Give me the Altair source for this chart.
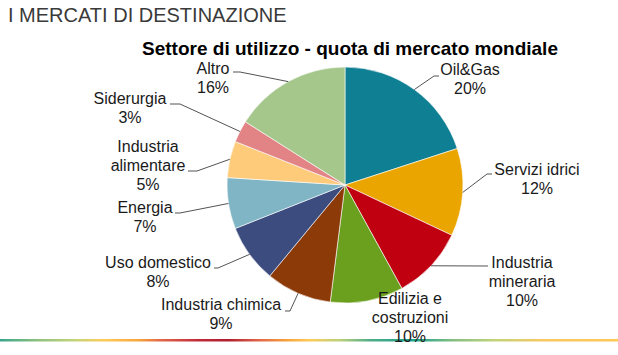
import numpy as np
import pandas as pd
import altair as alt

# ---------------- data ----------------
sectors = ["Oil&Gas", "Servizi idrici", "Industria mineraria", "Edilizia e costruzioni",
           "Industria chimica", "Uso domestico", "Energia", "Industria alimentare",
           "Siderurgia", "Altro"]
shares = [20, 12, 10, 10, 9, 8, 7, 5, 3, 16]
label_lines = [["Oil&Gas"], ["Servizi idrici"], ["Industria", "mineraria"],
               ["Edilizia e", "costruzioni"], ["Industria chimica"], ["Uso domestico"],
               ["Energia"], ["Industria", "alimentare"], ["Siderurgia"], ["Altro"]]
header = "I MERCATI DI DESTINAZIONE"
chart_title = "Settore di utilizzo - quota di mercato mondiale"

# ---------------- style / layout ----------------
colors = ["#0F7F93", "#EBA500", "#C00010", "#6B9F1E", "#8C3A08",
          "#3C4C7F", "#80B5C5", "#FECB7A", "#E28486", "#A5C78B"]
FONT = "Liberation Sans"
W, H = 618, 355
CX, CY, R = 345, 185, 118
LH = 19  # label line height
label_x = [470, 537, 522, 410, 221, 158, 145, 148, 130, 213]
label_y = [70, 170, 263, 299, 305, 263, 208, 147, 99, 69]
# leader lines: elbow and end points (None = no leader)
elbow = [(434, 76), (487, 174), (488, 266), None, (290, 311), (218, 268),
         (180, 213), (197, 171), (180, 104), (240, 72)]
lend = [(439, 76), (492, 174), (488, 266), None, (285, 311), (214, 268),
        (175, 213), (188, 171), (170, 104), (233, 72)]

# ---------------- tables ----------------
df = pd.DataFrame({"sector": sectors, "share": shares, "idx": range(len(sectors))})

total = sum(shares)
cum = np.cumsum(shares)
mid = (cum - np.array(shares) / 2) / total * 2 * np.pi

txt_rows = []
for i, lines in enumerate(label_lines):
    all_lines = lines + [f"{shares[i]}%"]
    for j, t in enumerate(all_lines):
        txt_rows.append({"t": t, "x": label_x[i], "y": label_y[i] + j * LH})
df_txt = pd.DataFrame(txt_rows)

line_rows = []
for i in range(len(sectors)):
    if elbow[i] is None:
        continue
    sx = CX + R * np.sin(mid[i])
    sy = CY - R * np.cos(mid[i])
    pts = [(sx, sy), elbow[i], lend[i]]
    for k, (px, py) in enumerate(pts):
        line_rows.append({"s": sectors[i], "k": k, "x": px, "y": py})
df_lines = pd.DataFrame(line_rows)

# ---------------- marks ----------------
stripe = alt.Chart(pd.DataFrame({"k": [0]})).mark_rect(
    color=alt.Gradient(
        gradient="linear", x1=0, x2=1, y1=0, y2=0,
        stops=[
            alt.GradientStop(offset=0.0, color="#38A58B"),
            alt.GradientStop(offset=0.06, color="#8DC07E"),
            alt.GradientStop(offset=0.12, color="#C3D47B"),
            alt.GradientStop(offset=0.17, color="#FFCB57"),
            alt.GradientStop(offset=0.225, color="#F6A43B"),
            alt.GradientStop(offset=0.26, color="#E2674A"),
            alt.GradientStop(offset=0.32, color="#C12A38"),
            alt.GradientStop(offset=0.37, color="#B01E2E"),
            alt.GradientStop(offset=0.42, color="#E2674A"),
            alt.GradientStop(offset=0.465, color="#F6A43B"),
            alt.GradientStop(offset=0.5, color="#FFCB57"),
            alt.GradientStop(offset=0.55, color="#BCD07B"),
            alt.GradientStop(offset=0.6, color="#4DAC88"),
            alt.GradientStop(offset=0.67, color="#1AA48C"),
            alt.GradientStop(offset=0.73, color="#80BD82"),
            alt.GradientStop(offset=0.8, color="#C2D37B"),
            alt.GradientStop(offset=0.88, color="#F8C860"),
            alt.GradientStop(offset=1.0, color="#FFC857"),
        ],
    )
).encode(x=alt.value(0), x2=alt.value(W), y=alt.value(339), y2=alt.value(341.5))

pie = alt.Chart(df).mark_arc(outerRadius=R, stroke="white", strokeWidth=0.6).encode(
    theta=alt.Theta("share:Q", stack=True),
    color=alt.Color("sector:N", scale=alt.Scale(domain=sectors, range=colors), legend=None),
    order=alt.Order("idx:Q"),
    x=alt.value(CX),
    y=alt.value(CY),
)

leaders = alt.Chart(df_lines).mark_line(color="#404040", strokeWidth=0.9).encode(
    x=alt.X("x:Q", scale=None),
    y=alt.Y("y:Q", scale=None),
    detail="s:N",
    order="k:Q",
)

labels = alt.Chart(df_txt).mark_text(
    font=FONT, fontSize=16, color="#1A1A1A", align="center", baseline="middle"
).encode(x=alt.X("x:Q", scale=None), y=alt.Y("y:Q", scale=None), text="t:N")

head = alt.Chart(pd.DataFrame({"t": [header]})).mark_text(
    font=FONT, fontSize=20, color="#3A3A3A", align="left", baseline="alphabetic"
).encode(x=alt.value(8), y=alt.value(22), text="t:N")

ttl = alt.Chart(pd.DataFrame({"t": [chart_title]})).mark_text(
    font=FONT, fontSize=19, fontWeight="bold", color="#000000", align="center",
    baseline="alphabetic"
).encode(x=alt.value(350), y=alt.value(55), text="t:N")

chart = alt.layer(stripe, pie, leaders, labels, head, ttl).properties(
    width=W, height=H, padding=0, autosize=alt.AutoSizeParams(type="none"),
    background="white",
).configure_view(stroke=None)

chart.save("out.html", embed_options={"renderer": "svg", "actions": False})
